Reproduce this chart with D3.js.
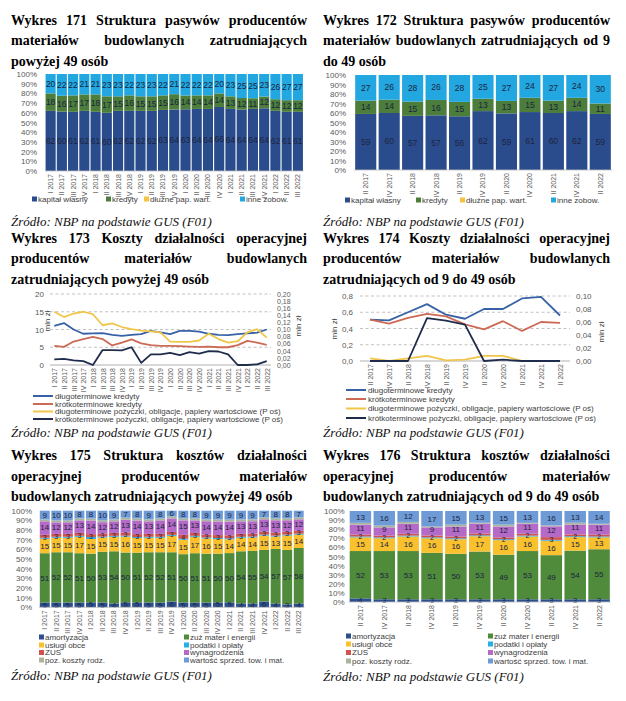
<!DOCTYPE html>
<html><head><meta charset="utf-8">
<script src="https://cdn.jsdelivr.net/npm/d3@7/dist/d3.min.js"></script>
<style>
html,body{margin:0;padding:0;background:#fff;}
svg{display:block}
.hd text{font-family:"Liberation Serif","Times New Roman",serif;font-weight:bold;font-size:14px;fill:#000}
.src{font-family:"Liberation Serif","Times New Roman",serif;font-style:italic;font-size:13px;fill:#111}
.ax text{font-family:"Liberation Sans",Arial,sans-serif;fill:#595959}
.lg{font-family:"Liberation Sans",Arial,sans-serif;font-size:8px;fill:#404040}
.bl{font-family:"Liberation Sans",Arial,sans-serif;fill:#1b2440}
</style></head><body>
<script>
// ---------------- DATA ----------------
const quarters23 = ["I 2017","II 2017","III 2017","IV 2017","I 2018","II 2018","III 2018","IV 2018","I 2019","II 2019","III 2019","IV 2019","I 2020","II 2020","III 2020","IV 2020","I 2021","II 2021","III 2021","IV 2021","I 2022","II 2022","III 2022"];
const quarters11 = ["II 2017","IV 2017","II 2018","IV 2018","II 2019","IV 2019","II 2020","IV 2020","II 2021","IV 2021","II 2022"];

// Wykres 171 (%)
const kapital171 = [62,60,61,62,61,60,62,62,62,62,63,64,63,64,64,66,64,64,64,64,62,61,61];
const kredyty171 = [18,16,17,17,18,17,15,16,15,15,15,16,14,14,14,14,13,12,11,12,12,12,12];
const dluzne171  = [0,0,0,0,0,0,0,0,0,0,0,0,0,0,0,0,0,0,0,0,0,0,0];
const inne171    = [20,22,22,21,21,23,23,22,23,23,22,21,22,22,22,20,23,25,25,23,26,27,27];

// Wykres 172 (%)
const kapital172 = [59,60,57,57,56,62,59,61,60,62,59];
const kredyty172 = [14,14,15,16,15,13,13,15,13,14,11];
const dluzne172  = [0,0,0,0,0,0,0,0,0,0,0];
const inne172    = [27,26,28,26,28,25,27,24,27,24,30];

// Wykres 173 (mln zł; P oś on right axis)
const dlugKred173 = [11.0,11.8,10.0,8.8,8.9,9.0,8.5,8.2,8.5,8.7,9.6,9.2,8.7,9.6,9.6,9.4,8.8,8.5,8.4,8.7,8.9,9.1,10.0];
const krotKred173 = [5.4,5.1,6.6,7.3,7.9,7.3,5.5,6.3,7.2,6.1,5.6,5.4,5.4,5.3,5.2,5.1,5.2,5.0,5.0,5.6,6.8,6.3,5.7];
const dlugPoz173  = [0.150,0.135,0.145,0.150,0.143,0.112,0.117,0.107,0.101,0.097,0.095,0.092,0.066,0.065,0.065,0.069,0.088,0.073,0.063,0.067,0.092,0.101,0.077];
const krotPoz173  = [0.016,0.017,0.013,0.011,0.000,0.042,0.042,0.041,0.050,0.006,0.030,0.030,0.034,0.028,0.036,0.032,0.039,0.038,0.030,0.000,0.000,0.002,0.011];

// Wykres 174
const dlugKred174 = [0.51,0.50,0.60,0.70,0.57,0.52,0.64,0.64,0.77,0.79,0.56];
const krotKred174 = [0.51,0.46,0.53,0.58,0.55,0.45,0.39,0.49,0.37,0.48,0.47];
const dlugPoz174  = [0.004,0.000,0.004,0.008,0.001,0.002,0.008,0.008,0.000,0.000,0.000];
const krotPoz174  = [0.000,0.000,0.000,0.066,0.062,0.056,0.000,0.002,0.000,0.000,0.000];

// Wykres 175 (%)
const amort175   = [5,5,5,5,5,5,4,5,5,5,5,6,5,5,5,5,5,4,4,6,4,3,4];
const zuz175     = [51,52,52,51,50,53,54,50,51,52,52,51,50,51,51,50,50,54,55,54,57,57,58];
const uslugi175  = [15,15,15,17,15,15,15,16,15,15,15,17,15,17,16,15,14,14,14,15,13,15,14];
const podatki175 = [1,1,1,1,2,1,1,1,1,1,1,1,1,1,1,1,1,1,1,1,1,1,1];
const zus175     = [3,3,3,3,3,3,3,3,3,3,3,3,4,3,3,3,3,3,3,3,3,3,3];
const wyn175     = [14,12,12,13,14,12,12,13,14,13,14,14,15,13,14,14,14,13,13,13,13,12,12];
const poz175     = [2,2,2,2,2,2,2,2,2,2,2,2,2,2,2,2,2,2,2,2,2,2,2];
const wart175    = [9,10,10,8,8,10,9,7,8,9,8,6,8,8,9,9,9,9,9,7,8,8,7];

// Wykres 176 (%)
const amort176   = [4,3,3,3,3,3,3,3,3,3,3];
const zuz176     = [52,53,53,51,50,53,49,53,49,54,55];
const uslugi176  = [15,14,16,16,16,17,16,16,16,15,13];
const podatki176 = [1,1,1,1,1,1,1,1,1,1,1];
const zus176     = [2,2,2,2,2,2,2,2,3,2,2];
const wyn176     = [11,9,11,9,11,11,12,11,12,11,11];
const poz176     = [2,2,2,1,2,1,2,1,1,2,1];
const wart176    = [13,16,12,17,15,13,15,13,16,13,14];

const pasywaNames = ["kapitał własny","kredyty","dłużne pap. wart.","inne zobow."];
const kosztyNames = ["amortyzacja","zuż mater i energii","usługi obce","podatki i opłaty","ZUS","wynagrodzenia","poz. koszty rodz.","wartość sprzed. tow. i mat."];
const liniaNames = ["długoterminowe kredyty","krótkoterminowe kredyty","długoterminowe pożyczki, obligacje, papiery wartościowe (P oś)","krótkoterminowe pożyczki, obligacje, papiery wartościowe (P oś)"];

// ---------------- STYLE ----------------
const pasywaColors = ["#2b4c8c","#4c7d3a","#f5c242","#22a7e0"];
const kosztyColors = ["#2c4f8f","#4f8b3b","#f9c12e","#27aee6","#d0534e","#b46ac6","#aab59d","#6e9ad6"];
const liniaColors = ["#3762a8","#cd6a55","#f0c64a","#1f2c4c"];

const pl = d3.formatLocale({decimal:",", thousands:" ", grouping:[3], currency:["","zł"]});

const svg = d3.select("body").append("svg").attr("width",626).attr("height",701);

// ---------------- HEADINGS ----------------
function heading(lines, x0, x1, ys){
  const g = svg.append("g").attr("class","hd");
  lines.forEach((line,i)=>{
    const justify = i < lines.length-1;
    const words = line.split(" ");
    const ts = words.map(w=>g.append("text").attr("y",ys[i]).text(w));
    const ws = ts.map(t=>t.node().getComputedTextLength());
    const gap = justify ? (x1-x0-d3.sum(ws))/(words.length-1) : 3.5;
    let x = x0;
    ts.forEach((t,j)=>{ t.attr("x",x); x += ws[j]+gap; });
  });
}
function source(x,y){
  svg.append("text").attr("class","src").attr("x",x).attr("y",y).text("Źródło: NBP na podstawie GUS (F01)");
}

heading(["Wykres 171 Struktura pasywów producentów","materiałów budowlanych zatrudniających","powyżej 49 osób"],11,307,[25,45,65.5]);
heading(["Wykres 172 Struktura pasywów producentów","materiałów budowlanych zatrudniających od 9","do 49 osób"],323,610,[25,45,65.5]);
heading(["Wykres 173 Koszty działalności operacyjnej","producentów materiałów budowlanych","zatrudniających powyżej 49 osób"],11,307,[242.5,263,283.5]);
heading(["Wykres 174 Koszty działalności operacyjnej","producentów materiałów budowlanych","zatrudniających od 9 do 49 osób"],323,610,[242.5,263,283.5]);
heading(["Wykres 175 Struktura kosztów działalności","operacyjnej producentów materiałów","budowlanych zatrudniających powyżej 49 osób"],11,307,[460,480.5,501]);
heading(["Wykres 176 Struktura kosztów działalności","operacyjnej producentów materiałów","budowlanych zatrudniających od 9 do 49 osób"],323,610,[460,480.5,501]);

source(11,226); source(323,226);
source(11,437); source(323,437);
source(11,680); source(323,681);

// ---------------- STACKED BARS ----------------
function stacked(c){
  const keys = c.series.map((s,i)=>"k"+i);
  const rows = c.cats.map((cat,j)=>{ const o={cat}; c.series.forEach((s,i)=>o["k"+i]=s[j]); return o; });
  const layers = d3.stack().keys(keys).offset(d3.stackOffsetExpand)(rows);
  const x = d3.scaleBand().domain(c.cats).range([c.x0,c.x1]).paddingInner(c.pad).paddingOuter(c.pad/2);
  const y = d3.scaleLinear().domain([0,1]).range([c.yBot,c.yTop]);
  const g = svg.append("g");
  g.selectAll("g.layer").data(layers).join("g").attr("fill",(d,i)=>c.colors[i])
    .selectAll("rect").data(d=>d).join("rect")
    .attr("x",d=>x(d.data.cat)).attr("width",x.bandwidth())
    .attr("y",d=>y(d[1])).attr("height",d=>Math.max(0,y(d[0])-y(d[1])));
  // labels
  layers.forEach((L,i)=>{
    if(!c.labelled[i]) return;
    const shift = c.labelShift ? c.labelShift[i] : 0;
    const fs = c.labelSizes ? c.labelSizes[i] : c.labelSize;
    g.append("g").selectAll("text").data(L).join("text").attr("class","bl")
      .attr("font-size",fs)
      .attr("x",d=>x(d.data.cat)+x.bandwidth()/2)
      .attr("y",d=>(y(d[0])+y(d[1]))/2+shift).attr("dy","0.35em").attr("text-anchor","middle")
      .text((d,j)=>c.series[i][j]);
  });
  // base line
  g.append("line").attr("x1",c.x0).attr("x2",c.x1).attr("y1",c.yBot).attr("y2",c.yBot)
    .attr("stroke","#bfbfbf").attr("stroke-width",0.8);
  // y axis
  const ya = g.append("g").attr("class","ax").attr("transform",`translate(${c.yLabX},0)`)
    .call(d3.axisLeft(y).tickValues(d3.range(0,1.001,0.1)).tickFormat(d3.format(".0%")).tickSize(0).tickPadding(0));
  ya.select(".domain").remove();
  ya.selectAll("text").attr("font-size",8).attr("fill","#595959");
  // x axis labels
  const xa = g.append("g").attr("class","ax").attr("transform",`translate(0,${c.yBot})`)
    .call(d3.axisBottom(x).tickSize(0).tickPadding(0));
  xa.select(".domain").remove();
  xa.selectAll("text").attr("font-size",7).attr("fill","#595959")
    .attr("transform","rotate(-90)").attr("text-anchor","end")
    .attr("x",-c.xLabPad).attr("y",0).attr("dy","0.35em");
  return g;
}

function squareLegend(items, fs){
  const g = svg.append("g");
  items.forEach(it=>{
    g.append("rect").attr("x",it.x).attr("y",it.y-2.5).attr("width",5).attr("height",5).attr("fill",it.color);
    g.append("text").attr("class","lg").attr("font-size",fs||8).attr("x",it.x+6).attr("y",it.y).attr("dy","0.35em").text(it.name);
  });
}

// 171
stacked({cats:quarters23, series:[kapital171,kredyty171,dluzne171,inne171], colors:pasywaColors,
  labelled:[true,true,false,true], labelSize:8.5, x0:45, x1:303.5, pad:0.1, yTop:74, yBot:171, yLabX:37, xLabPad:3});
squareLegend([
  {x:32,y:199,color:pasywaColors[0],name:pasywaNames[0]},
  {x:106,y:199,color:pasywaColors[1],name:pasywaNames[1]},
  {x:144,y:199,color:pasywaColors[2],name:pasywaNames[2]},
  {x:240,y:199,color:pasywaColors[3],name:pasywaNames[3]}]);

// 172
stacked({cats:quarters11, series:[kapital172,kredyty172,dluzne172,inne172], colors:pasywaColors,
  labelled:[true,true,false,true], labelSize:8.5, x0:354, x1:612, pad:0.1, yTop:75, yBot:170, yLabX:346, xLabPad:3});
squareLegend([
  {x:345,y:200,color:pasywaColors[0],name:pasywaNames[0]},
  {x:416,y:200,color:pasywaColors[1],name:pasywaNames[1]},
  {x:460,y:200,color:pasywaColors[2],name:pasywaNames[2]},
  {x:551,y:200,color:pasywaColors[3],name:pasywaNames[3]}]);

// 175
const kSeries175 = [amort175,zuz175,uslugi175,podatki175,zus175,wyn175,poz175,wart175];
stacked({cats:quarters23, series:kSeries175, colors:kosztyColors,
  labelled:[true,true,true,false,true,true,false,true], labelSizes:[7.5,8,8,8,7,8,8,8],
  labelShift:[0,0,0,0,0.8,-1.2,0,0], x0:39, x1:304.5, pad:0.14, yTop:510.7, yBot:607.3, yLabX:32, xLabPad:3});
// 176
const kSeries176 = [amort176,zuz176,uslugi176,podatki176,zus176,wyn176,poz176,wart176];
stacked({cats:quarters11, series:kSeries176, colors:kosztyColors,
  labelled:[true,true,true,false,true,true,false,true], labelSizes:[7.5,8,8,8,7,8,8,8],
  labelShift:[0,0,0,0,1.2,-1.8,0,0], x0:348.5, x1:611, pad:0.1, yTop:511, yBot:602, yLabX:344.5, xLabPad:3});

function kosztyLegend(xl,xr,ys){
  const items=[];
  kosztyNames.forEach((n,i)=>items.push({x:i%2===0?xl:xr, y:ys[Math.floor(i/2)], color:kosztyColors[i], name:n}));
  squareLegend(items, 7.5);
}
kosztyLegend(39,184,[637,645,652.5,660]);
kosztyLegend(346,488,[636,644,652.5,661]);

// ---------------- LINE CHARTS ----------------
function lines(c){
  const x = d3.scalePoint().domain(c.cats).range([c.px0,c.px1]);
  const yL = d3.scaleLinear().domain(c.leftDomain).range([c.yBot,c.yTop]);
  const yR = d3.scaleLinear().domain(c.rightDomain).range([c.yBot,c.yTop]);
  const g = svg.append("g");
  g.selectAll("line.grid").data(c.leftTicks.filter(t=>t>0)).join("line")
    .attr("x1",c.gx0).attr("x2",c.gx1).attr("y1",d=>yL(d)).attr("y2",d=>yL(d))
    .attr("stroke","#a6a6a6").attr("stroke-width",0.7).attr("stroke-dasharray","3,2.5");
  g.append("line").attr("x1",c.gx0).attr("x2",c.gx1).attr("y1",c.yBot).attr("y2",c.yBot)
    .attr("stroke","#a6a6a6").attr("stroke-width",0.9);
  // left axis
  const la = g.append("g").attr("class","ax").attr("transform",`translate(${c.lLabX},0)`)
    .call(d3.axisLeft(yL).tickValues(c.leftTicks).tickFormat(c.leftFmt).tickSize(0).tickPadding(0));
  la.select(".domain").remove();
  la.selectAll("text").attr("font-size",8).attr("fill","#595959");
  const ra = g.append("g").attr("class","ax").attr("transform",`translate(${c.rLabX},0)`)
    .call(d3.axisRight(yR).tickValues(c.rightTicks).tickFormat(c.rightFmt).tickSize(0).tickPadding(0));
  ra.select(".domain").remove();
  ra.selectAll("text").attr("font-size",c.rFont).attr("fill","#595959");
  // axis titles
  [[c.lTitX,c.lTitY],[c.rTitX,c.rTitY]].forEach(p=>{
    g.append("text").attr("class","lg").attr("font-size",7)
      .attr("transform",`translate(${p[0]},${p[1]}) rotate(-90)`).attr("text-anchor","middle").text("mln zł");
  });
  // x labels
  const xa = g.append("g").attr("class","ax").attr("transform",`translate(0,${c.yBot})`)
    .call(d3.axisBottom(x).tickSize(0).tickPadding(0));
  xa.select(".domain").remove();
  xa.selectAll("text").attr("font-size",7).attr("fill","#595959")
    .attr("transform","rotate(-90)").attr("text-anchor","end")
    .attr("x",-c.xLabPad).attr("y",0).attr("dy","0.35em");
  // series
  c.series.forEach((s,i)=>{
    const sc = c.onRight[i] ? yR : yL;
    const ln = d3.line().x((d,j)=>x(c.cats[j])).y(d=>sc(d));
    g.append("path").attr("d",ln(s)).attr("fill","none").attr("stroke",liniaColors[i])
      .attr("stroke-width",1.8).attr("stroke-linejoin","round");
  });
  // legend
  c.legendY.forEach((yy,i)=>{
    g.append("line").attr("x1",c.legX).attr("x2",c.legX+20).attr("y1",yy).attr("y2",yy)
      .attr("stroke",liniaColors[i]).attr("stroke-width",2);
    g.append("text").attr("class","lg").attr("font-size",7.5).attr("x",c.legX+22).attr("y",yy).attr("dy","0.35em").text(liniaNames[i]);
  });
}

lines({cats:quarters23, series:[dlugKred173,krotKred173,dlugPoz173,krotPoz173], onRight:[false,false,true,true],
  px0:54.3, px1:266.7, gx0:50, gx1:271, yTop:294, yBot:365,
  leftDomain:[0,20], rightDomain:[0,0.2], leftTicks:[0,5,10,15,20], rightTicks:d3.range(0,0.2001,0.02),
  leftFmt:d3.format("d"), rightFmt:pl.format(".2f"), lLabX:44, rLabX:277, rFont:7,
  lTitX:50, lTitY:321, rTitX:301, rTitY:326, xLabPad:3,
  legX:33, legendY:[396,404,411.5,419]});

lines({cats:quarters11, series:[dlugKred174,krotKred174,dlugPoz174,krotPoz174], onRight:[false,false,true,true],
  px0:370, px1:560, gx0:360, gx1:570, yTop:296, yBot:361,
  leftDomain:[0,0.8], rightDomain:[0,0.1], leftTicks:[0,0.2,0.4,0.6,0.8], rightTicks:d3.range(0,0.1001,0.02),
  leftFmt:pl.format(".1f"), rightFmt:pl.format(".2f"), lLabX:353, rLabX:576, rFont:8,
  lTitX:337, lTitY:329, rTitX:604, rTitY:332, xLabPad:3,
  legX:346, legendY:[390,399,408.5,418]});
</script></body></html>
